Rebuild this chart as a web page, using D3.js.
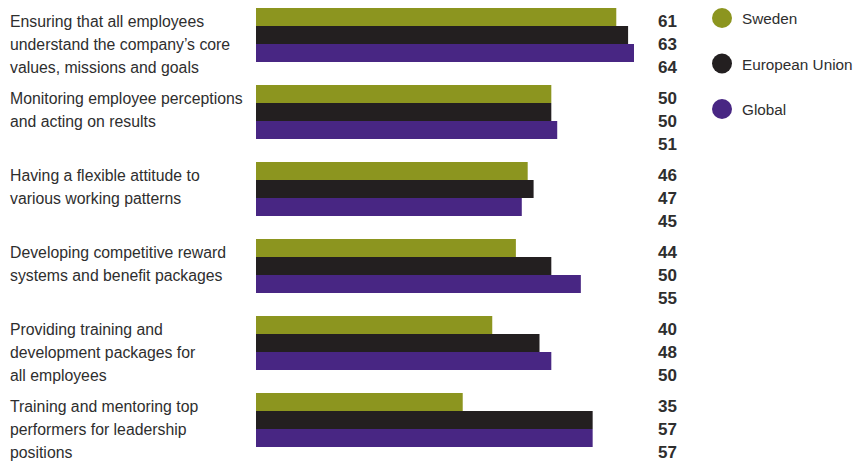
<!DOCTYPE html>
<html>
<head>
<meta charset="utf-8">
<script src="https://cdn.jsdelivr.net/npm/d3@7"></script>
<style>
  html, body { margin: 0; padding: 0; background: #ffffff; }
  svg { display: block; font-family: "Liberation Sans", Arial, sans-serif; }
</style>
</head>
<body>
<svg id="chart" width="867" height="462"></svg>
<script>
// Priorities, share of respondents (%)
const categories = [
  ["Ensuring that all employees", "understand the company\u2019s core", "values, missions and goals"],
  ["Monitoring employee perceptions", "and acting on results"],
  ["Having a flexible attitude to", "various working patterns"],
  ["Developing competitive reward", "systems and benefit packages"],
  ["Providing training and", "development packages for", "all employees"],
  ["Training and mentoring top", "performers for leadership", "positions"]
];
const seriesNames = ["Sweden", "European Union", "Global"];
const sweden = [61, 50, 46, 44, 40, 35];
const europeanUnion = [63, 50, 47, 50, 48, 57];
const global = [64, 51, 45, 55, 50, 57];
const colors = ["#8c951f", "#231f20", "#482683"];

const seriesValues = [sweden, europeanUnion, global];
const svg = d3.select("#chart");

const groupIdx = d3.range(categories.length);
const y = d3.scaleBand().domain(groupIdx).range([8, 8 + 77 * categories.length]).paddingInner(0).paddingOuter(0);
const ySub = d3.scaleBand().domain(d3.range(seriesNames.length)).range([0, 54]);
const x = d3.scaleLinear().domain([0, 64]).range([256, 634]);

const textColor = "#2e2e2e";

// Category labels
const catG = svg.append("g");
categories.forEach((lines, i) => {
  const t = catG.append("text")
    .attr("x", 10)
    .attr("y", y(i) + 18.5)
    .attr("fill", textColor)
    .style("font-size", "15.8px");
  lines.forEach((ln, j) => {
    t.append("tspan").attr("x", 10).attr("dy", j === 0 ? 0 : 23).text(ln);
  });
});

// Bars
const barG = svg.append("g");
seriesValues.forEach((vals, s) => {
  barG.selectAll(null)
    .data(vals)
    .join("rect")
    .attr("x", x(0))
    .attr("y", (d, i) => y(i) + ySub(s))
    .attr("width", d => x(d) - x(0))
    .attr("height", ySub.bandwidth())
    .attr("fill", colors[s]);
});

// Value labels
const valG = svg.append("g");
seriesValues.forEach((vals, s) => {
  valG.selectAll(null)
    .data(vals)
    .join("text")
    .attr("x", 677)
    .attr("y", (d, i) => y(i) + 18.5 + s * 23)
    .attr("text-anchor", "end")
    .attr("fill", textColor)
    .style("font-size", "17px")
    .style("font-weight", "bold")
    .text(d => d);
});

// Legend
const legend = svg.append("g");
seriesNames.forEach((name, s) => {
  const cy = 18 + s * 45.5;
  legend.append("circle").attr("cx", 722).attr("cy", cy).attr("r", 10).attr("fill", colors[s]);
  legend.append("text")
    .attr("x", 742).attr("y", cy + 6)
    .attr("fill", textColor)
    .style("font-size", "15.3px")
    .text(name);
});
</script>
</body>
</html>
